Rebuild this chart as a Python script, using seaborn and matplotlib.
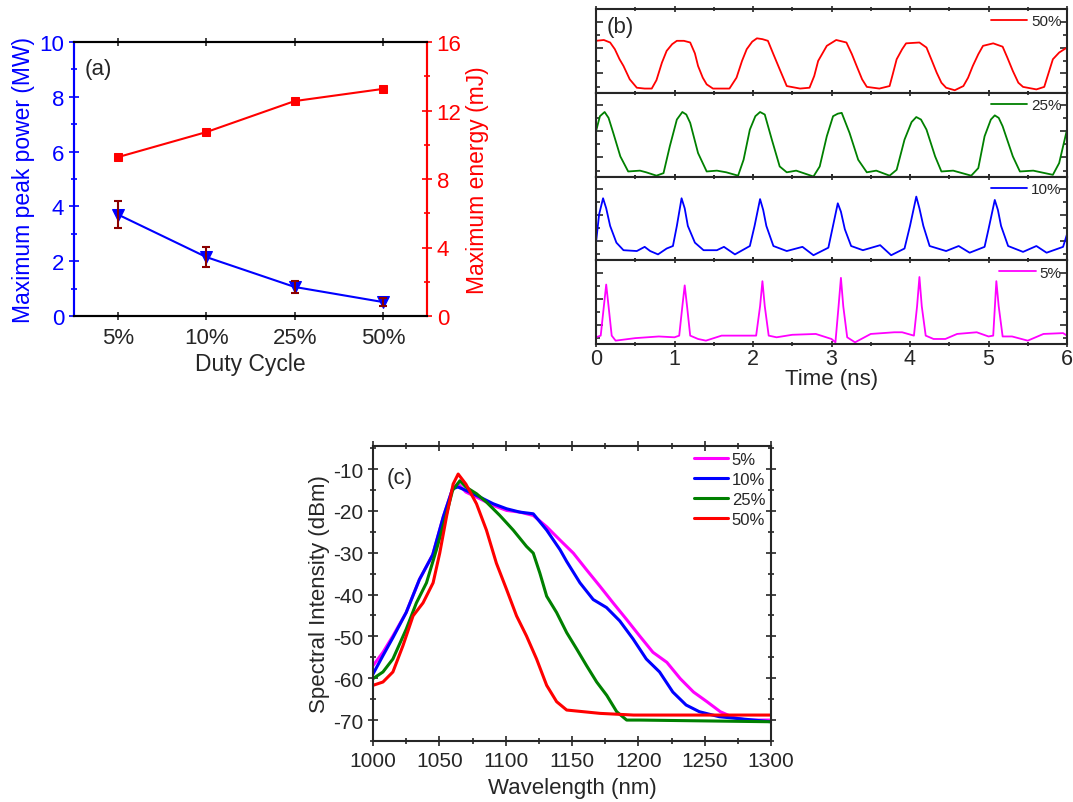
import numpy as np
import pandas as pd
import matplotlib
matplotlib.use("Agg")
import matplotlib.pyplot as plt
import seaborn as sns
from matplotlib.ticker import MultipleLocator, FixedLocator

# ---------------- data: panel (a) ----------------
duty = ["5%", "10%", "25%", "50%"]
peak_power = [3.70, 2.15, 1.06, 0.51]
peak_err = [0.48, 0.36, 0.22, 0.14]
energy = [9.28, 10.74, 12.55, 13.26]

# ---------------- data: panel (b) (normalised amplitude) ----------------
t50 = [0.00, 0.10, 0.18, 0.24, 0.30, 0.35, 0.43, 0.52, 0.62, 0.71, 0.77, 0.84, 0.90, 0.97, 1.03, 1.12,
       1.20, 1.26, 1.30, 1.36, 1.41, 1.49, 1.60, 1.70, 1.79, 1.86, 1.92, 1.99, 2.05, 2.12, 2.19, 2.26,
       2.34, 2.43, 2.60, 2.72, 2.78, 2.83, 2.94, 3.06, 3.19, 3.26, 3.32, 3.39, 3.45, 3.61, 3.74, 3.78,
       3.83, 3.90, 3.95, 4.12, 4.21, 4.28, 4.34, 4.40, 4.46, 4.57, 4.68, 4.74, 4.80, 4.87, 4.93, 5.06,
       5.18, 5.24, 5.31, 5.38, 5.44, 5.61, 5.71, 5.76, 5.82, 5.90, 6.00]
a50 = [0.62, 0.63, 0.60, 0.52, 0.40, 0.32, 0.16, 0.06, 0.05, 0.05, 0.15, 0.36, 0.50, 0.58, 0.62, 0.62,
       0.60, 0.47, 0.32, 0.18, 0.10, 0.05, 0.05, 0.05, 0.18, 0.38, 0.52, 0.61, 0.65, 0.64, 0.62, 0.46,
       0.28, 0.08, 0.05, 0.06, 0.20, 0.38, 0.56, 0.63, 0.60, 0.46, 0.32, 0.16, 0.07, 0.05, 0.08, 0.22,
       0.40, 0.52, 0.59, 0.60, 0.54, 0.38, 0.24, 0.12, 0.06, 0.03, 0.08, 0.18, 0.32, 0.46, 0.56, 0.59,
       0.55, 0.42, 0.26, 0.12, 0.07, 0.04, 0.07, 0.22, 0.40, 0.48, 0.54]

t25 = [0.00, 0.05, 0.11, 0.16, 0.22, 0.31, 0.41, 0.56, 0.64, 0.77, 0.86, 0.94, 1.03, 1.10, 1.15, 1.20,
       1.30, 1.41, 1.54, 1.66, 1.81, 1.88, 1.96, 2.03, 2.09, 2.15, 2.24, 2.34, 2.43, 2.55, 2.77, 2.85,
       2.94, 3.02, 3.08, 3.13, 3.23, 3.34, 3.45, 3.57, 3.74, 3.83, 3.93, 4.02, 4.08, 4.14, 4.21, 4.32,
       4.40, 4.55, 4.78, 4.87, 4.95, 5.03, 5.08, 5.13, 5.18, 5.31, 5.40, 5.57, 5.82, 5.90, 6.00]
a25 = [0.54, 0.72, 0.77, 0.70, 0.52, 0.24, 0.06, 0.07, 0.05, 0.01, 0.04, 0.36, 0.68, 0.77, 0.74, 0.64,
       0.28, 0.06, 0.07, 0.05, 0.01, 0.20, 0.56, 0.72, 0.77, 0.74, 0.44, 0.12, 0.05, 0.07, 0.00, 0.12,
       0.48, 0.72, 0.75, 0.76, 0.52, 0.20, 0.05, 0.07, 0.01, 0.08, 0.44, 0.65, 0.71, 0.68, 0.56, 0.24,
       0.06, 0.07, 0.01, 0.10, 0.48, 0.68, 0.73, 0.70, 0.60, 0.24, 0.06, 0.07, 0.02, 0.16, 0.56]

t10 = [0.00, 0.04, 0.09, 0.13, 0.18, 0.26, 0.35, 0.52, 0.62, 0.69, 0.79, 0.90, 0.98, 1.03, 1.09, 1.13,
       1.17, 1.26, 1.37, 1.54, 1.63, 1.77, 1.96, 2.02, 2.09, 2.13, 2.17, 2.26, 2.43, 2.63, 2.77, 2.96,
       3.01, 3.08, 3.12, 3.17, 3.25, 3.40, 3.62, 3.76, 3.93, 4.00, 4.08, 4.12, 4.17, 4.25, 4.46, 4.62,
       4.76, 4.95, 5.00, 5.08, 5.12, 5.16, 5.25, 5.44, 5.61, 5.74, 5.95, 6.00]
a10 = [0.21, 0.55, 0.74, 0.62, 0.41, 0.21, 0.12, 0.11, 0.16, 0.11, 0.07, 0.14, 0.17, 0.41, 0.74, 0.62,
       0.41, 0.21, 0.12, 0.12, 0.16, 0.07, 0.17, 0.41, 0.73, 0.60, 0.41, 0.17, 0.11, 0.16, 0.06, 0.15,
       0.37, 0.68, 0.58, 0.37, 0.17, 0.12, 0.18, 0.06, 0.14, 0.41, 0.76, 0.62, 0.41, 0.17, 0.11, 0.17,
       0.09, 0.16, 0.37, 0.72, 0.60, 0.41, 0.17, 0.10, 0.17, 0.09, 0.16, 0.31]

t5 = [0.00, 0.06, 0.10, 0.13, 0.16, 0.20, 0.25, 0.50, 0.80, 1.00, 1.06, 1.10, 1.13, 1.16, 1.20, 1.30,
      1.40, 1.60, 1.90, 2.04, 2.09, 2.12, 2.15, 2.20, 2.30, 2.50, 2.80, 3.00, 3.05, 3.09, 3.12, 3.15,
      3.20, 3.30, 3.50, 3.80, 3.90, 4.05, 4.09, 4.12, 4.15, 4.20, 4.30, 4.45, 4.60, 4.85, 5.00, 5.06,
      5.10, 5.13, 5.18, 5.30, 5.50, 5.70, 5.95, 6.00]
a5 = [0.08, 0.10, 0.45, 0.71, 0.45, 0.10, 0.04, 0.07, 0.09, 0.08, 0.10, 0.45, 0.70, 0.45, 0.10, 0.06,
      0.04, 0.10, 0.10, 0.10, 0.45, 0.75, 0.45, 0.10, 0.08, 0.11, 0.12, 0.06, 0.02, 0.45, 0.79, 0.45,
      0.08, 0.02, 0.12, 0.14, 0.14, 0.10, 0.45, 0.80, 0.45, 0.10, 0.06, 0.06, 0.12, 0.14, 0.09, 0.10,
      0.75, 0.45, 0.09, 0.09, 0.04, 0.12, 0.13, 0.10]

# ---------------- data: panel (c) ----------------
wl5 = [1000, 1007.5, 1015, 1025, 1035, 1045, 1053, 1060, 1064, 1070, 1080.5, 1090.6, 1100.7, 1110.7,
       1120.8, 1130.9, 1141, 1151, 1161, 1171, 1181, 1191, 1201, 1211, 1221.5, 1231.6, 1241.6, 1251.7,
       1261.8, 1271.8, 1281.9, 1300]
db5 = [-57.0, -53.8, -49.9, -44.3, -36.4, -30.5, -21.4, -14.7, -13.5, -15.5, -17.1, -18.7, -19.9, -20.3,
       -21.1, -23.8, -27.0, -30.1, -34.1, -38.0, -42.0, -45.9, -49.9, -53.8, -56.2, -60.1, -63.3, -65.6,
       -68.0, -69.4, -70.0, -70.0]

wl10 = [1000, 1007.5, 1015, 1025, 1035, 1045, 1053, 1060, 1064, 1070, 1080.5, 1090.6, 1100.7, 1110.7,
        1120.8, 1130.9, 1141, 1146, 1156, 1166, 1176, 1186, 1196, 1206, 1216, 1226, 1236, 1246, 1261,
        1300]
db10 = [-59.0, -54.6, -50.3, -44.3, -36.4, -30.5, -21.4, -14.7, -14.3, -15.1, -16.7, -18.3, -19.5, -20.3,
        -20.7, -24.6, -29.3, -32.1, -37.2, -41.2, -43.1, -46.3, -50.6, -55.4, -58.5, -63.3, -66.4, -68.0,
        -69.2, -70.4]

wl25 = [1000, 1007.5, 1015, 1025, 1032.7, 1040.3, 1047.8, 1055.4, 1060, 1065.5, 1070, 1078, 1085.5,
        1095.6, 1105.7, 1115.7, 1120.8, 1125.8, 1130.9, 1138.4, 1146, 1153.5, 1161, 1168.6, 1176.2,
        1183.7, 1191.2, 1201.3, 1300]
db25 = [-60.1, -58.5, -55.4, -48.3, -42.0, -37.2, -29.3, -20.7, -15.1, -12.8, -14.3, -15.9, -17.9,
        -21.1, -24.6, -28.5, -30.1, -34.9, -40.4, -44.3, -49.1, -53.0, -57.0, -60.9, -64.1, -68.0,
        -70.0, -70.0, -70.4]

wl50 = [1000, 1007.5, 1015, 1022.6, 1030.2, 1037.7, 1045.3, 1050.3, 1055.4, 1060.4, 1064.2, 1070,
        1078, 1085.5, 1093, 1100.7, 1108.2, 1115.7, 1123.3, 1130.9, 1138.4, 1146, 1158.6, 1171.2,
        1196.4, 1300]
db50 = [-61.7, -60.9, -58.5, -52.2, -45.1, -42.0, -37.2, -30.1, -21.4, -13.6, -11.2, -13.6, -18.3,
        -24.6, -32.5, -38.8, -45.1, -49.9, -55.4, -61.7, -65.6, -67.6, -68.0, -68.4, -68.8, -68.8]

# ---------------- style ----------------
sns.set_style("ticks")
plt.rcParams["font.family"] = ["Liberation Sans", "DejaVu Sans"]
plt.rcParams["axes.unicode_minus"] = False

BLUE = "#0000ff"
RED = "#ff0000"
GREEN = "#008000"
MAGENTA = "#ff00ff"
DARKRED = "#8b0000"

fig = plt.figure(figsize=(10.73, 8.03), dpi=100)

# ================= panel (a) =================
axa = fig.add_axes([74 / 1073, 1 - 317 / 803, (427 - 74) / 1073, (317 - 43) / 803])
xa = np.arange(len(duty))
dfa = pd.DataFrame({"pos": xa, "power": peak_power, "energy": energy})
sns.lineplot(data=dfa, x="pos", y="power", ax=axa, color=BLUE, marker="v", markersize=8,
             markeredgecolor=BLUE, linewidth=1.5)
axa.errorbar(xa, peak_power, yerr=peak_err, fmt="none", ecolor=DARKRED, capsize=3,
             elinewidth=1.5, capthick=1.5, zorder=5)
axa.set_xlim(-0.5, 3.5)
axa.set_ylim(0, 10)
axa.set_xticks(xa)
axa.set_xticklabels(duty)
axa.yaxis.set_major_locator(MultipleLocator(2))
axa.yaxis.set_minor_locator(MultipleLocator(1))
axa.tick_params(axis="x", top=True, labelsize=16, length=6, width=1.2, pad=5, direction="inout")
axa.tick_params(axis="y", which="both", colors=BLUE, labelsize=16, width=1.2, direction="inout")
axa.tick_params(axis="y", which="major", length=7)
axa.tick_params(axis="y", which="minor", length=4)
axa.set_xlabel("Duty Cycle", fontsize=16.5, labelpad=3)
axa.set_ylabel("Maximum peak power (MW)", fontsize=16.5, color=BLUE, labelpad=3)
axa.text(0.03, 0.94, "(a)", transform=axa.transAxes, fontsize=16, va="top")

axa2 = axa.twinx()
sns.lineplot(data=dfa, x="pos", y="energy", ax=axa2, color=RED, marker="s", markersize=6,
             markeredgecolor=RED, linewidth=1.5)
axa2.set_ylim(0, 16)
axa2.yaxis.set_major_locator(MultipleLocator(4))
axa2.yaxis.set_minor_locator(MultipleLocator(2))
axa2.tick_params(axis="y", which="both", colors=RED, labelsize=16, width=1.2, direction="inout")
axa2.tick_params(axis="y", which="major", length=7)
axa2.tick_params(axis="y", which="minor", length=4)
axa2.set_ylabel("Maximum energy (mJ)", fontsize=16.5, color=RED, labelpad=3)
for ax in (axa, axa2):
    for s in ax.spines.values():
        s.set_linewidth(1.5)
    ax.spines["left"].set_color(BLUE)
    ax.spines["right"].set_color(RED)
    ax.spines["top"].set_color("black")
    ax.spines["bottom"].set_color("black")

# ================= panel (b) =================
b_left, b_right, b_top, b_bot = 596, 1067, 10, 345
traces = [("50%", t50, a50, RED), ("25%", t25, a25, GREEN), ("10%", t10, a10, BLUE), ("5%", t5, a5, MAGENTA)]
h = (b_bot - b_top) / 4
for i, (lab, tt, aa, col) in enumerate(traces):
    y0 = b_top + i * h
    ax = fig.add_axes([b_left / 1073, 1 - (y0 + h) / 803, (b_right - b_left) / 1073, h / 803])
    dfb = pd.DataFrame({"t": tt, "a": aa})
    sns.lineplot(data=dfb, x="t", y="a", ax=ax, color=col, linewidth=1.3, label=lab, sort=False,
                 estimator=None)
    ax.set_xlim(0, 6)
    ax.set_ylim(0, 1)
    ax.xaxis.set_major_locator(MultipleLocator(1))
    ax.xaxis.set_minor_locator(MultipleLocator(0.5))
    ax.yaxis.set_major_locator(FixedLocator([0.23, 0.54, 0.85]))
    ax.yaxis.set_minor_locator(FixedLocator([0.07, 0.385, 0.695]))
    ax.set_yticklabels([])
    ax.tick_params(axis="y", which="both", direction="in", right=True, width=1.2)
    ax.tick_params(axis="x", which="both", direction="inout", top=True, width=1.2)
    ax.tick_params(axis="both", which="major", length=5)
    ax.tick_params(axis="both", which="minor", length=3)
    ax.set_ylabel("")
    for s in ax.spines.values():
        s.set_linewidth(1.5)
    ax.legend(loc="upper right", frameon=False, fontsize=11, handlelength=2.4,
              handletextpad=0.25, borderaxespad=0.35, borderpad=0.0)
    if i < 3:
        ax.set_xticklabels([])
        ax.set_xlabel("")
    else:
        ax.tick_params(axis="x", labelsize=15.5, pad=0.5)
        ax.set_xlabel("Time (ns)", fontsize=16, labelpad=-1)
    if i == 0:
        ax.text(0.022, 0.92, "(b)", transform=ax.transAxes, fontsize=16, va="top")

# ================= panel (c) =================
axc = fig.add_axes([373 / 1073, 1 - 742 / 803, (771 - 373) / 1073, (742 - 447) / 803])
spectra = [("5%", wl5, db5, MAGENTA), ("10%", wl10, db10, BLUE), ("25%", wl25, db25, GREEN),
           ("50%", wl50, db50, RED)]
for lab, ww, dd, col in spectra:
    dfc = pd.DataFrame({"wl": ww, "db": dd})
    sns.lineplot(data=dfc, x="wl", y="db", ax=axc, color=col, linewidth=2.2, label=lab,
                 estimator=None)
axc.set_xlim(1000, 1300)
axc.set_ylim(-75, -4.5)
axc.xaxis.set_major_locator(MultipleLocator(50))
axc.xaxis.set_minor_locator(MultipleLocator(25))
axc.yaxis.set_major_locator(MultipleLocator(10))
axc.yaxis.set_minor_locator(MultipleLocator(5))
axc.tick_params(axis="both", which="both", direction="inout", top=True, right=True, width=1.2,
                labelsize=15)
axc.tick_params(axis="both", which="major", length=7)
axc.tick_params(axis="both", which="minor", length=4)
axc.set_xlabel("Wavelength (nm)", fontsize=16, labelpad=5)
axc.set_ylabel("Spectral Intensity (dBm)", fontsize=16, labelpad=2)
for s in axc.spines.values():
    s.set_linewidth(1.5)
axc.text(0.035, 0.93, "(c)", transform=axc.transAxes, fontsize=16, va="top")
axc.legend(loc="upper right", frameon=False, fontsize=12, handlelength=2.0, handletextpad=0.25,
           labelspacing=0.3, borderaxespad=0.15, borderpad=0.2)

fig.savefig("out.png", dpi=100)
